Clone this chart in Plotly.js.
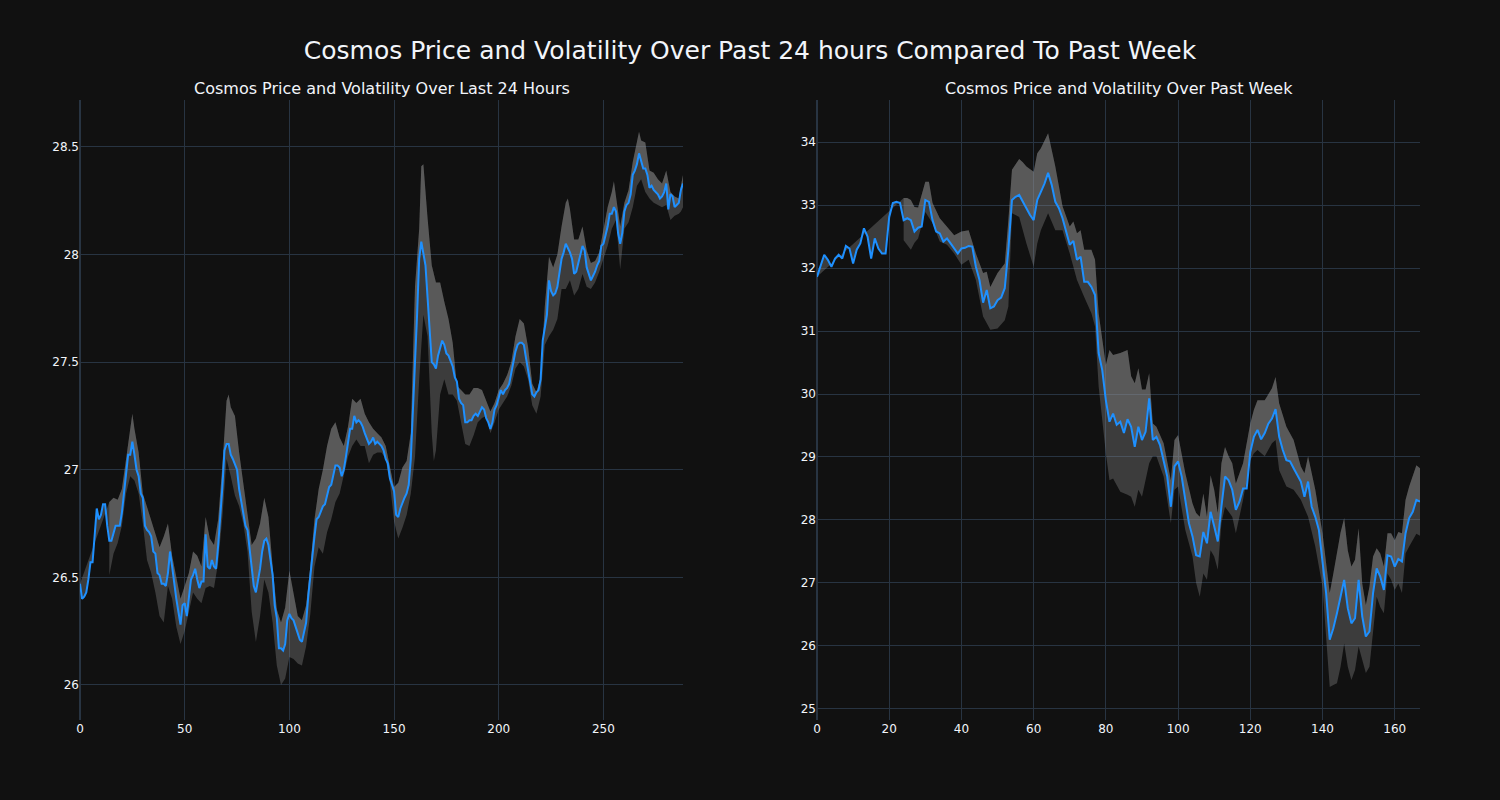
<!DOCTYPE html>
<html>
<head>
<meta charset="utf-8">
<script src="https://cdn.plot.ly/plotly-3.0.1.min.js"></script>
<style>html,body{margin:0;padding:0;background:#111111;}#chart{width:1500px;height:800px;}</style>
</head>
<body>
<div id="chart"></div>
<script>
// ---------- Last 24 hours (5-minute steps) ----------
const dayPrice = [
  26.47,26.40,26.41,26.43,26.49,26.57,26.57,26.69,26.82,26.77,
  26.79,26.84,26.84,26.74,26.67,26.67,26.71,26.74,26.74,26.74,
  26.80,26.89,26.98,27.07,27.07,27.13,27.07,27.00,26.97,26.89,
  26.87,26.74,26.72,26.71,26.69,26.62,26.61,26.52,26.51,26.47,
  26.47,26.46,26.52,26.62,26.55,26.46,26.40,26.34,26.28,26.37,
  26.38,26.32,26.42,26.49,26.51,26.54,26.49,26.45,26.48,26.48,
  26.70,26.55,26.54,26.58,26.55,26.54,26.65,26.77,26.92,27.09,
  27.12,27.12,27.07,27.05,27.02,27.00,26.91,26.85,26.79,26.74,
  26.72,26.63,26.52,26.46,26.43,26.48,26.54,26.62,26.67,26.68,
  26.65,26.58,26.51,26.37,26.31,26.17,26.17,26.16,26.19,26.30,
  26.33,26.31,26.30,26.27,26.24,26.21,26.20,26.24,26.29,26.41,
  26.52,26.60,26.69,26.77,26.78,26.81,26.83,26.84,26.88,26.92,
  26.93,26.98,27.02,27.02,27.01,26.97,27.00,27.06,27.12,27.19,
  27.19,27.25,27.22,27.23,27.22,27.20,27.17,27.14,27.12,27.13,
  27.15,27.12,27.13,27.12,27.11,27.09,27.05,27.03,26.96,26.93,
  26.90,26.79,26.78,26.82,26.85,26.87,26.89,26.93,27.05,27.25,
  27.50,27.72,27.98,28.06,28.01,27.95,27.80,27.62,27.50,27.49,
  27.47,27.53,27.57,27.60,27.58,27.54,27.53,27.50,27.48,27.43,
  27.41,27.33,27.31,27.30,27.22,27.22,27.23,27.23,27.25,27.26,
  27.25,27.27,27.29,27.28,27.24,27.22,27.19,27.22,27.28,27.30,
  27.33,27.37,27.35,27.37,27.38,27.40,27.45,27.50,27.55,27.58,
  27.59,27.59,27.58,27.52,27.46,27.41,27.35,27.34,27.36,27.37,
  27.42,27.60,27.67,27.72,27.88,27.83,27.81,27.82,27.85,27.92,
  27.98,28.01,28.05,28.03,28.01,27.98,27.91,27.92,27.96,28.01,
  28.04,28.02,27.94,27.91,27.88,27.90,27.92,27.95,27.97,28.04,
  28.05,28.09,28.13,28.19,28.19,28.22,28.20,28.10,28.05,28.10,
  28.20,28.23,28.24,28.28,28.37,28.39,28.42,28.47,28.43,28.40,
  28.40,28.37,28.31,28.32,28.30,28.29,28.28,28.26,28.27,28.29,
  28.33,28.21,28.28,28.27,28.22,28.23,28.24,28.30,28.33
];
const dayUpperX = [
  14,16,18,20,22,24,25,26,28,30,32,34,36,38,40,42,44,46,48,50,
  52,54,56,58,60,62,64,66,68,70,71,72,74,76,78,80,82,84,86,88,
  90,92,94,96,98,100,102,104,106,108,110,112,114,116,118,120,122,124,126,128,
  130,132,134,136,138,140,142,144,146,148,150,152,154,156,158,160,162,163,164,166,
  168,170,172,174,176,178,180,182,184,186,188,190,192,194,196,198,200,202,204,206,
  208,210,212,214,216,218,220,222,224,226,228,230,232,233,234,236,238,240,242,244,
  246,248,250,252,254,255,256,258,260,262,264,266,267,268,270,272,274,276,278,280,
  282,284,286,287,288
];
const dayUpper = [
  26.85,26.87,26.86,26.91,27.05,27.19,27.26,27.19,27.08,26.89,26.83,26.77,26.71,26.64,26.69,26.75,26.60,26.50,26.40,26.46,
  26.52,26.62,26.60,26.55,26.78,26.68,26.65,26.77,27.02,27.32,27.35,27.29,27.25,27.08,26.94,26.80,26.65,26.68,26.75,26.87,
  26.78,26.55,26.35,26.29,26.36,26.53,26.43,26.32,26.30,26.37,26.55,26.77,26.91,27.00,27.11,27.19,27.22,27.15,27.11,27.20,
  27.33,27.31,27.33,27.26,27.22,27.19,27.17,27.15,27.11,27.02,26.92,26.94,27.01,27.04,27.17,27.85,28.12,28.41,28.42,28.17,
  27.95,27.87,27.87,27.78,27.70,27.59,27.39,27.37,27.35,27.35,27.38,27.38,27.37,27.32,27.27,27.31,27.37,27.40,27.44,27.50,
  27.62,27.70,27.68,27.57,27.40,27.36,27.43,27.76,27.99,27.94,28.00,28.13,28.24,28.26,28.21,28.07,28.07,28.13,28.02,27.96,
  27.97,28.01,28.12,28.22,28.29,28.34,28.27,28.13,28.24,28.30,28.43,28.53,28.57,28.53,28.52,28.39,28.38,28.35,28.33,28.39,
  28.29,28.27,28.26,28.32,28.37
];
const dayLowerX = [
  14,16,18,20,22,24,26,28,30,32,34,36,38,40,42,44,46,48,50,52,
  54,56,58,60,62,64,66,68,70,72,74,76,78,80,82,84,86,88,90,92,
  94,96,98,100,102,104,106,108,110,112,114,116,118,120,122,124,126,128,130,132,
  134,136,138,140,142,144,146,148,150,152,154,156,158,160,162,164,166,168,169,170,
  172,174,176,178,180,182,184,186,188,190,192,194,196,198,200,202,204,206,208,210,
  212,214,216,218,220,222,224,226,228,230,232,234,236,238,240,242,244,246,248,250,
  252,254,256,258,260,262,264,266,268,270,272,274,276,278,280,282,284,286,287,288
];
const dayLower = [
  26.51,26.61,26.66,26.74,26.89,26.97,26.95,26.89,26.75,26.58,26.52,26.43,26.32,26.29,26.46,26.40,26.27,26.19,26.25,26.34,
  26.43,26.40,26.38,26.45,26.46,26.45,26.57,26.78,27.05,26.97,26.88,26.83,26.75,26.62,26.34,26.20,26.32,26.49,26.43,26.29,
  26.09,26.00,26.03,26.13,26.12,26.10,26.09,26.18,26.33,26.55,26.64,26.61,26.71,26.77,26.85,26.89,26.98,27.06,27.11,27.14,
  27.11,27.11,27.03,27.07,27.08,27.08,27.05,26.94,26.76,26.68,26.73,26.79,26.89,27.06,27.42,27.72,27.62,27.17,27.04,27.09,
  27.35,27.42,27.35,27.35,27.32,27.22,27.12,27.11,27.16,27.22,27.24,27.25,27.17,27.22,27.28,27.31,27.34,27.39,27.47,27.50,
  27.48,27.42,27.30,27.26,27.34,27.58,27.62,27.65,27.70,27.84,27.84,27.88,27.81,27.84,27.91,27.85,27.84,27.87,27.92,27.98,
  28.04,28.12,28.16,27.93,28.12,28.15,28.22,28.32,28.35,28.29,28.26,28.24,28.23,28.22,28.23,28.16,28.18,28.19,28.20,28.22
];

// ---------- Past week (hourly steps) ----------
const weekPrice = [
  31.86,32.05,32.21,32.13,32.02,32.15,32.21,32.15,32.35,32.31,
  32.07,32.29,32.39,32.63,32.50,32.15,32.47,32.31,32.23,32.23,
  32.81,33.03,33.05,33.03,32.76,32.79,32.76,32.58,32.64,32.66,
  33.08,33.05,32.76,32.58,32.55,32.42,32.47,32.39,32.31,32.23,
  32.31,32.32,32.35,32.34,32.02,31.81,31.45,31.65,31.36,31.39,
  31.49,31.53,31.68,32.29,33.08,33.13,33.16,33.05,32.95,32.84,
  32.76,33.08,33.21,33.34,33.51,33.32,33.05,32.95,32.79,32.58,
  32.37,32.43,32.13,32.18,31.78,31.78,31.70,31.57,30.65,30.38,
  29.90,29.56,29.69,29.51,29.56,29.38,29.60,29.48,29.16,29.48,
  29.27,29.40,29.93,29.27,29.32,29.19,28.95,28.69,28.21,28.85,
  28.93,28.69,28.32,27.95,27.74,27.44,27.42,27.81,27.63,28.13,
  27.90,27.66,28.21,28.69,28.63,28.48,28.16,28.29,28.50,28.50,
  29.08,29.32,29.43,29.28,29.38,29.53,29.61,29.76,29.32,29.11,
  28.95,28.93,28.82,28.71,28.61,28.37,28.61,28.21,28.05,27.84,
  27.37,26.84,26.10,26.28,26.52,26.78,27.05,26.60,26.36,26.44,
  27.05,26.47,26.15,26.23,26.84,27.23,27.10,26.89,27.44,27.42,
  27.26,27.38,27.34,27.79,28.03,28.13,28.32,28.29
];
const weekUpperX = [
  24,25,26,27,28,30,31,32,34,36,38,40,42,44,46,47,48,50,52,53,
  54,56,57,58,60,61,62,64,66,68,70,71,72,73,74,76,77,78,80,81,
  82,84,86,87,88,89,90,91,92,93,94,96,98,99,100,102,104,105,106,107,
  108,109,110,111,112,113,114,115,116,118,120,121,122,124,126,127,128,130,132,134,
  135,136,138,140,142,143,144,145,146,147,148,149,150,151,152,153,154,155,156,157,
  158,159,160,161,162,163,164,165,166,167
];
const weekUpper = [
  33.11,33.11,33.08,32.97,32.96,33.37,33.37,33.03,32.79,32.66,32.52,32.58,32.60,32.23,31.92,31.94,31.70,31.92,32.07,32.76,
  33.56,33.73,33.68,33.61,33.53,33.82,33.90,34.14,33.61,32.98,32.66,32.74,32.55,32.60,32.29,32.29,32.13,31.28,30.46,30.70,
  30.62,30.65,30.70,30.28,30.17,30.41,30.07,30.07,30.33,29.53,29.48,29.22,28.63,29.27,29.35,28.74,28.26,28.11,28.05,28.42,
  28.05,28.71,28.48,28.11,28.90,29.16,29.01,28.90,28.58,28.90,29.53,29.75,29.90,29.90,30.09,30.27,29.85,29.48,29.27,28.85,
  28.74,29.01,28.48,27.79,26.84,27.15,27.45,27.80,28.03,27.52,27.26,27.37,27.87,26.99,26.65,26.94,27.42,27.55,27.47,27.26,
  27.79,27.79,27.68,27.81,27.79,28.32,28.53,28.69,28.87,28.82
];
const weekLowerX = [
  24,25,26,27,28,30,32,34,36,38,40,42,44,46,48,50,52,53,54,56,
  57,58,60,61,62,64,66,68,70,72,74,76,77,78,80,81,82,84,86,87,
  88,89,90,91,92,93,94,96,98,99,100,102,104,105,106,107,108,109,110,111,
  112,113,114,115,116,118,120,121,122,124,126,127,128,130,132,134,136,138,140,142,
  143,144,145,146,147,148,149,150,151,152,153,154,155,156,157,158,159,160,161,162,
  163,164,165,166,167
];
const weekLower = [
  32.44,32.37,32.29,32.40,32.47,32.89,32.71,32.42,32.37,32.23,32.05,32.13,31.81,31.23,31.02,31.04,31.17,31.39,32.87,32.81,
  32.60,32.39,32.02,32.39,32.60,32.87,32.60,32.60,32.23,31.81,31.54,31.28,31.07,30.12,29.06,28.63,28.66,28.45,28.40,28.37,
  28.21,28.48,28.37,28.63,28.90,29.01,29.01,28.69,27.95,28.48,28.53,27.84,27.42,27.00,26.78,27.15,27.05,27.52,27.42,27.21,
  27.95,28.21,28.13,28.05,27.79,28.32,28.95,29.06,29.11,29.01,29.22,29.27,28.79,28.53,28.48,28.32,28.05,27.58,26.94,25.35,
  25.38,25.41,25.67,26.04,25.67,25.46,25.62,25.99,25.78,25.57,25.67,26.20,26.78,26.62,26.52,27.15,27.05,26.89,26.99,26.84,
  27.47,27.58,27.68,27.78,27.75
];

const mainTitle = 'Cosmos Price and Volatility Over Past 24 hours Compared To Past Week';
const leftTitle = 'Cosmos Price and Volatility Over Last 24 Hours';
const rightTitle = 'Cosmos Price and Volatility Over Past Week';

[[dayUpperX, dayUpper], [dayLowerX, dayLower], [weekUpperX, weekUpper], [weekLowerX, weekLower]].forEach(function (p, k) {
  if (p[0].length !== p[1].length) throw new Error('length mismatch ' + k + ': ' + p[0].length + ' vs ' + p[1].length);
});

const BAND = 'rgba(150,150,150,0.33)';
const BLUE = '#1e90ff';

function panel(price, upX, up, loX, lo, xa, ya) {
  const idx = price.map(function (_, i) { return i; });
  const base = { mode: 'lines', xaxis: xa, yaxis: ya, hoverinfo: 'skip', showlegend: false };
  return [
    Object.assign({}, base, { x: upX, y: up, line: { width: 0, color: BAND } }),
    Object.assign({}, base, { x: loX, y: lo, line: { width: 0, color: BAND }, fill: 'tonexty', fillcolor: BAND }),
    Object.assign({}, base, { x: idx, y: price, line: { width: 0, color: BAND } }),
    Object.assign({}, base, { x: upX, y: up, line: { width: 0, color: BAND }, fill: 'tonexty', fillcolor: BAND }),
    Object.assign({}, base, { x: idx, y: price, line: { width: 2, color: BLUE } })
  ];
}

const data = panel(dayPrice, dayUpperX, dayUpper, dayLowerX, dayLower, 'x', 'y')
  .concat(panel(weekPrice, weekUpperX, weekUpper, weekLowerX, weekLower, 'x2', 'y2'));

const axisStyle = {
  gridcolor: '#283442', zerolinecolor: '#283442', zerolinewidth: 2,
  linecolor: '#506784', showline: false, ticks: '',
  tickfont: { size: 12, color: '#f2f5fa' }
};

const layout = {
  width: 1500, height: 800,
  paper_bgcolor: '#111111', plot_bgcolor: '#111111',
  font: { family: 'DejaVu Sans', color: '#f2f5fa', size: 12 },
  margin: { l: 80, r: 80, t: 100, b: 80 },
  hovermode: false,
  showlegend: false,
  title: { text: mainTitle, x: 0.5, xanchor: 'center', y: 0.9375, yanchor: 'middle', yref: 'container', font: { size: 25, color: '#f2f5fa' } },
  xaxis: Object.assign({}, axisStyle, { domain: [0, 0.45], anchor: 'y', range: [0, dayPrice.length - 1] }),
  yaxis: Object.assign({}, axisStyle, { domain: [0, 1], anchor: 'x', range: [25.837, 28.718] }),
  xaxis2: Object.assign({}, axisStyle, { domain: [0.55, 1], anchor: 'y2', range: [0, weekPrice.length - 1] }),
  yaxis2: Object.assign({}, axisStyle, { domain: [0, 1], anchor: 'x2', range: [24.825, 34.667] }),
  annotations: [
    { text: leftTitle, x: 0.225, y: 1, xref: 'paper', yref: 'paper', xanchor: 'center', yanchor: 'bottom', showarrow: false, font: { size: 16, color: '#f2f5fa' } },
    { text: rightTitle, x: 0.775, y: 1, xref: 'paper', yref: 'paper', xanchor: 'center', yanchor: 'bottom', showarrow: false, font: { size: 16, color: '#f2f5fa' } }
  ]
};

Plotly.newPlot('chart', data, layout, { displayModeBar: false, staticPlot: true });
</script>
</body>
</html>
